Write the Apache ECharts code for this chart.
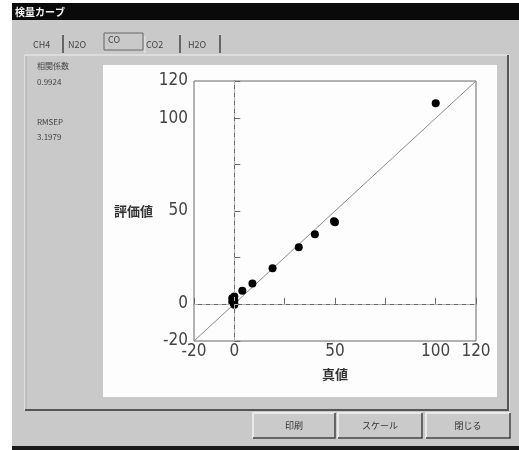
<!DOCTYPE html>
<html><head><meta charset="utf-8">
<script src="https://cdn.jsdelivr.net/npm/echarts@6/dist/echarts.min.js"></script>
<style>html,body{margin:0;padding:0;background:#fff}#c{width:519px;height:450px}</style>
</head><body><div id="c"></div>
<script>
// ---- data ----
const trueValues      = [100, 49.5, 50, 40, 32, 19, 9, 4, 0, -1, 0, -1, 0, 0];
const predictedValues = [108, 44.5, 44, 37.5, 30.5, 19.2, 11, 7, 4, 3, 2, 1, 0, -0.5];
const identityLine = [[-20, -20], [120, 120]];
const axisTicks = [-20, 0, 25, 50, 75, 100, 120];
const axisTickLabels = [-20, 0, 50, 100, 120];
const tabNames = ['CH4', 'N2O', 'CO', 'CO2', 'H2O'];
const statLabels = ['相関係数', 'RMSEP'];
const statValues = ['0.9924', '3.1979'];
const buttonNames = ['印刷', 'スケール', '閉じる'];
const windowTitle = '検量カーブ';
const xName = '真値', yName = '評価値';

const points = trueValues.map((v, i) => [v, predictedValues[i]]);
const uiFont = "'Noto Sans CJK JP', sans-serif";
const numFont = "'Liberation Sans Narrow', 'DejaVu Sans Condensed', sans-serif";

const G = [];
// window body
G.push({type:'rect', shape:{x:12,y:3,width:507,height:444}, style:{fill:'#c9c9c9'}, z:-20});
G.push({type:'rect', shape:{x:12,y:3,width:507,height:17}, style:{fill:'#0a0a0a'}, z:-19});
G.push({type:'text', x:15, y:12, style:{text:windowTitle, fill:'#f2f2f2', font:'bold 10px '+uiFont, verticalAlign:'middle'}, z:-18});
G.push({type:'rect', shape:{x:12,y:446,width:507,height:4}, style:{fill:'#1a1a1a'}, z:-19});
// panel frame
G.push({type:'rect', shape:{x:25,y:55,width:484,height:355}, style:{fill:'#c9c9c9', stroke:'#efefef', lineWidth:1}, z:-18});
G.push({type:'line', shape:{x1:508,y1:55,x2:508,y2:411}, style:{stroke:'#555', lineWidth:2}, z:-17});
G.push({type:'line', shape:{x1:25,y1:410,x2:509,y2:410}, style:{stroke:'#555', lineWidth:2}, z:-17});
G.push({type:'line', shape:{x1:26,y1:56,x2:26,y2:409}, style:{stroke:'#a8a8a8', lineWidth:1}, z:-17});
// white chart area
G.push({type:'rect', shape:{x:103,y:65,width:394,height:332}, style:{fill:'#fdfdfd'}, z:-16});
// tabs
const tabX = [33, 68, 108, 146, 188];
const sepX = [63, null, 145, 180, 220];
tabNames.forEach((t, i) => {
  G.push({type:'text', x:tabX[i], y: i === 2 ? 40 : 45, style:{text:t, fill:'#444', font:'9px '+uiFont, verticalAlign:'middle'}, z:-15});
});
[63, 180, 220].forEach(x => G.push({type:'line', shape:{x1:x,y1:35,x2:x,y2:53}, style:{stroke:'#444', lineWidth:1.5}, z:-15}));
G.push({type:'rect', shape:{x:104,y:33,width:39,height:17}, style:{fill:'none', stroke:'#666', lineWidth:1}, z:-15});
G.push({type:'line', shape:{x1:145,y1:36,x2:145,y2:53}, style:{stroke:'#eee', lineWidth:1}, z:-15});
// stats text
const statY = [[66, 82], [122, 137]];
statLabels.forEach((s, i) => {
  G.push({type:'text', x:37, y:statY[i][0], style:{text:s, fill:'#444', font:'8px '+uiFont, verticalAlign:'middle'}, z:-15});
  G.push({type:'text', x:37, y:statY[i][1], style:{text:statValues[i], fill:'#444', font:'8px '+uiFont, verticalAlign:'middle'}, z:-15});
});
// buttons
const btnX = [253, 338, 426], btnW = [82, 84, 84];
buttonNames.forEach((b, i) => {
  const x = btnX[i], w = btnW[i], y = 413, h = 25;
  G.push({type:'rect', shape:{x:x,y:y,width:w,height:h}, style:{fill:'#cacaca'}, z:-15});
  G.push({type:'polyline', shape:{points:[[x,y+h],[x,y],[x+w,y]]}, style:{stroke:'#f4f4f4', lineWidth:1.5, fill:'none'}, z:-14});
  G.push({type:'polyline', shape:{points:[[x,y+h],[x+w,y+h],[x+w,y]]}, style:{stroke:'#444', lineWidth:1.5, fill:'none'}, z:-14});
  G.push({type:'text', x:x+w/2, y:y+h/2, style:{text:b, fill:'#333', font:'9px '+uiFont, align:'center', verticalAlign:'middle'}, z:-13});
});

const axisCommon = {
  type:'value', min:-20, max:120,
  axisLine:{show:true, lineStyle:{color:'#666', width:1}},
  axisTick:{show:true, inside:true, length:6, customValues:axisTicks, lineStyle:{color:'#666'}},
  axisLabel:{customValues:axisTickLabels, color:'#444', fontFamily:numFont, fontSize:17},
  splitLine:{show:false},
  nameTextStyle:{color:'#333', fontFamily:uiFont, fontSize:13, fontWeight:'bold'}
};

const chart = echarts.init(document.getElementById('c'), null, {renderer:'canvas'});
chart.setOption({
  backgroundColor:'#ffffff',
  animation:false,
  graphic:{elements:G},
  grid:{left:194, top:81, width:282, height:260, show:true, borderColor:'#666', borderWidth:1, backgroundColor:'transparent'},
  xAxis:Object.assign({}, axisCommon, {
    axisLabel:Object.assign({}, axisCommon.axisLabel, {margin:2}),
    name:xName, nameLocation:'middle', nameGap:27
  }),
  yAxis:Object.assign({}, axisCommon, {
    axisLabel:Object.assign({}, axisCommon.axisLabel, {margin:6}),
    name:yName, nameLocation:'middle', nameRotate:0, nameGap:38
  }),
  series:[
    {type:'line', data:identityLine, symbol:'none', lineStyle:{color:'#8a8a8a', width:1}, silent:true, z:2,
     markLine:{silent:true, symbol:'none', label:{show:false},
       lineStyle:{color:'#b0b0b0', type:[4,4], width:1},
       data:[{xAxis:0},{yAxis:0}]}},
    {type:'scatter', data:points, symbolSize:8, itemStyle:{color:'#000', opacity:1}, z:3}
  ]
});
</script></body></html>
